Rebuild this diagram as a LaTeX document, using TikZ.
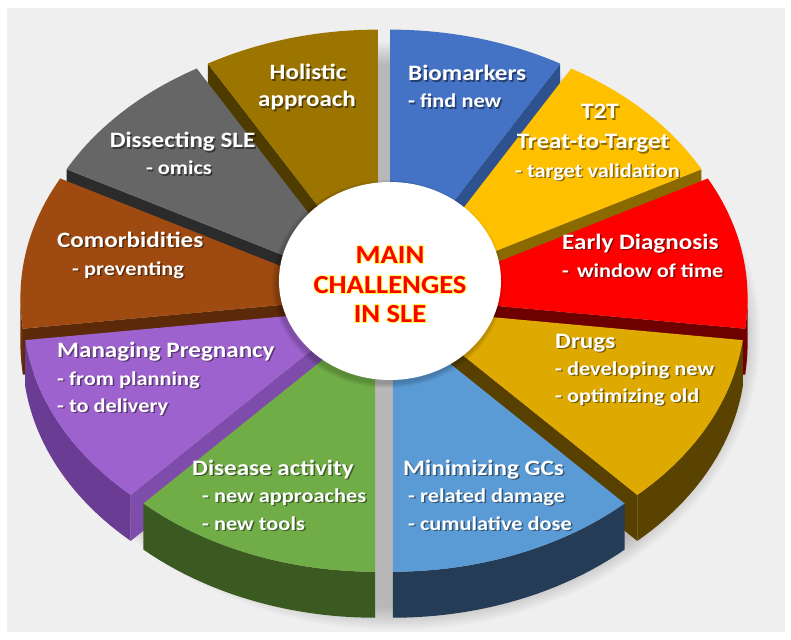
\documentclass[tikz,border=0pt]{standalone}
\usepackage{fontspec}
\setmainfont{Carlito}
\newfontface\glowfont{Carlito Bold}[FakeBold=7]
\usetikzlibrary{shapes.geometric}
\definecolor{bgc}{HTML}{EFEFEF}
\definecolor{holT}{HTML}{9C7400}\definecolor{holS}{HTML}{4D3B00}
\definecolor{bioT}{HTML}{4472C4}\definecolor{bioS}{HTML}{2E528F}
\definecolor{disT}{HTML}{666666}\definecolor{disS}{HTML}{2B2B2B}
\definecolor{t2tT}{HTML}{FFC000}\definecolor{t2tS}{HTML}{8A6A00}
\definecolor{comT}{HTML}{9E4A10}\definecolor{comS}{HTML}{5C2A08}\definecolor{comO}{HTML}{6E3209}
\definecolor{edT}{HTML}{FF0000}\definecolor{edS}{HTML}{6E0000}\definecolor{edO}{HTML}{7A0000}
\definecolor{prgT}{HTML}{9E62CE}\definecolor{prgS}{HTML}{7E4CAA}\definecolor{prgO}{HTML}{6A3C93}
\definecolor{drgT}{HTML}{DEA900}\definecolor{drgS}{HTML}{584000}\definecolor{drgO}{HTML}{5A4300}
\definecolor{dacT}{HTML}{70AD47}\definecolor{dacO}{HTML}{3A5A22}
\definecolor{gcsT}{HTML}{5B9BD5}\definecolor{gcsO}{HTML}{243C55}
\definecolor{glowc}{HTML}{FFFF55}
\def\RX{340}\def\RY{254}\def\DEP{46}
\newcommand{\segcenter}[3]{%
 \pgfmathsetmacro\segmid{(#2+#3)/2}%
 \pgfmathsetmacro\segcx{384+24*cos(\segmid)}%
 \pgfmathsetmacro\segcy{301-18*sin(\segmid)}%
 \coordinate (#1) at (\segcx,\segcy);}
\newcommand{\segradial}[2]{%
 \fill[#2] (\segcx,\segcy) -- ({\segcx+\RX*cos(#1)},{\segcy-\RY*sin(#1)}) -- ({\segcx+\RX*cos(#1)},{\segcy-\RY*sin(#1)+\DEP}) -- (\segcx,\segcy+\DEP) -- cycle;}
\newcommand{\segouter}[3]{%
 \fill[#3] plot[domain=#1:#2,samples=25] ({\segcx+\RX*cos(\x)},{\segcy-\RY*sin(\x)}) -- plot[domain=#2:#1,samples=25] ({\segcx+\RX*cos(\x)},{\segcy-\RY*sin(\x)+\DEP}) -- cycle;}
\newcommand{\segtop}[3]{%
 \fill[#3] (\segcx,\segcy) -- plot[domain=#1:#2,samples=30] ({\segcx+\RX*cos(\x)},{\segcy-\RY*sin(\x)}) -- cycle;}
\tikzset{
 lbl/.style={text=white,font=\fontsize{22}{26}\selectfont\bfseries,inner sep=0pt},
 lblsh/.style={text=black,opacity=0.45,font=\fontsize{22}{26}\selectfont\bfseries,inner sep=0pt},
 sublbl/.style={text=white,font=\fontsize{19.6}{24}\selectfont\bfseries,inner sep=0pt},
 sublblsh/.style={text=black,opacity=0.45,font=\fontsize{19.6}{24}\selectfont\bfseries,inner sep=0pt},
 ctr/.style={text=red,font=\fontsize{26}{30}\selectfont\bfseries,inner sep=0pt,anchor=base},
 glow/.style={text=glowc,font=\fontsize{26}{30}\glowfont,inner sep=0pt,anchor=base}
}
\newcommand{\lab}[5]{%
 \node[lblsh,anchor=#4] (#1s) at (#2+1.5,#3+1.5) {\scalebox{1.14}[1]{#5}};
 \node[lbl,anchor=#4] (#1) at (#2,#3) {\scalebox{1.14}[1]{#5}};}
\newcommand{\labs}[5]{%
 \node[sublblsh,anchor=#4] (#1s) at (#2+1.5,#3+1.5) {\scalebox{1.14}[1]{#5}};
 \node[sublbl,anchor=#4] (#1) at (#2,#3) {\scalebox{1.14}[1]{#5}};}
\newcommand{\ctrtxt}[4]{%
 \node[glow] (#1g) at (#2,#3) {\scalebox{1.1}[1]{#4}};
 \node[ctr] (#1) at (#2,#3) {\scalebox{1.1}[1]{#4}};}
\begin{document}
\begin{tikzpicture}[x=1pt,y=-1pt]
\useasboundingbox (0,0) rectangle (791,639);
\fill[white] (0,0) rectangle (791,639);
\fill[bgc] (7,8) rectangle (785,632);
% soft shadow under pie
\foreach \i in {0,...,11} \fill[black,opacity=0.018] (396,336) ellipse ({342+2*\i} and {272+2*\i});
% segments, back to front
\segcenter{hol}{90}{120}\segradial{120}{holS}\segtop{90}{120}{holT}
\segcenter{bio}{60}{90}\segradial{60}{bioS}\segtop{60}{90}{bioT}
\segcenter{dis}{120}{152}\segradial{152}{disS}\segtop{120}{152}{disT}
\segcenter{t2t}{28}{60}\segradial{28}{t2tS}\segtop{28}{60}{t2tT}
\segcenter{com}{152}{187}\segradial{187}{comS}\segouter{180}{187}{comO}\segtop{152}{187}{comT}
\segcenter{edx}{-7}{28}\segradial{-7}{edS}\segouter{-7}{0}{edO}\segtop{-7}{28}{edT}
\segcenter{prg}{187}{227}\segradial{227}{prgS}\segouter{187}{227}{prgO}\segtop{187}{227}{prgT}
\segcenter{drg}{-47}{-7}\segradial{-47}{drgS}\segouter{-47}{-7}{drgO}\segtop{-47}{-7}{drgT}
\segcenter{dac}{227}{270}\segouter{227}{270}{dacO}\segtop{227}{270}{dacT}
\segcenter{gcs}{-90}{-47}\segouter{-90}{-47}{gcsO}\segtop{-90}{-47}{gcsT}
% hub
\foreach \i in {1,...,5} \fill[black,opacity=0.04] (388,284) ellipse ({111+\i} and {99+\i});
\node[ellipse,fill=white,minimum width=222pt,minimum height=198pt,inner sep=0pt] (hub) at (390,281) {};
\ctrtxt{c1}{390}{263}{MAIN}
\ctrtxt{c2}{390}{293}{CHALLENGES}
\ctrtxt{c3}{390}{322}{IN SLE}
% labels
\lab{h1}{308}{80}{base}{Holistic}
\lab{h2}{307}{107}{base}{approach}
\lab{b1}{408}{81}{base west}{Biomarkers}
\labs{b2}{408}{108}{base west}{- find new}
\lab{t1}{600}{119}{base}{T2T}
\lab{t2}{593}{149}{base}{Treat-to-Target}
\labs{t3}{515}{177}{base west}{- target validation}
\lab{e1}{562}{249}{base west}{Early Diagnosis}
\labs{e2}{562}{277}{base west}{-\hspace{7pt}window of time}
\lab{d1}{555}{348}{base west}{Drugs}
\labs{d2}{555}{375}{base west}{- developing new}
\labs{d3}{555}{402}{base west}{- optimizing old}
\lab{g1}{403}{475}{base west}{Minimizing GCs}
\labs{g2}{408}{502}{base west}{- related damage}
\labs{g3}{408}{530}{base west}{- cumulative dose}
\lab{a1}{192}{475}{base west}{Disease activity}
\labs{a2}{202}{502}{base west}{- new approaches}
\labs{a3}{202}{530}{base west}{- new tools}
\lab{p1}{57}{357}{base west}{Managing Pregnancy}
\labs{p2}{57}{385}{base west}{- from planning}
\labs{p3}{57}{412}{base west}{- to delivery}
\lab{m1}{57}{247}{base west}{Comorbidities}
\labs{m2}{72}{275}{base west}{- preventing}
\lab{s1}{182.5}{148}{base}{Dissecting SLE}
\labs{s2}{179}{175}{base}{- omics}
\end{tikzpicture}
\end{document}
